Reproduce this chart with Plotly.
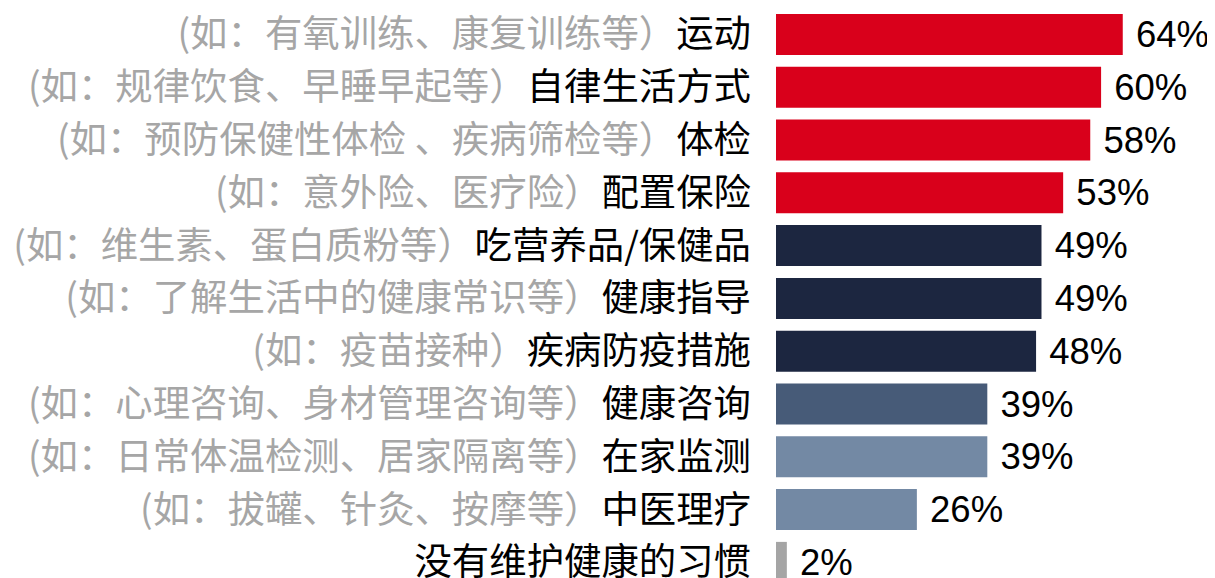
import plotly.graph_objects as go

prefixes = [
    "(如：有氧训练、康复训练等）",
    "(如：规律饮食、早睡早起等）",
    "(如：预防保健性体检 、疾病筛检等）",
    "(如：意外险、医疗险）",
    "(如：维生素、蛋白质粉等）",
    "(如：了解生活中的健康常识等）",
    "(如：疫苗接种）",
    "(如：心理咨询、身材管理咨询等）",
    "(如：日常体温检测、居家隔离等）",
    "(如：拔罐、针灸、按摩等）",
    "",
]
categories = [
    "运动", "自律生活方式", "体检", "配置保险", "吃营养品/保健品", "健康指导",
    "疾病防疫措施", "健康咨询", "在家监测", "中医理疗", "没有维护健康的习惯",
]
values = [64, 60, 58, 53, 49, 49, 48, 39, 39, 26, 2]
colors = ["#D9001B"] * 4 + ["#1C2640"] * 3 + ["#475B78", "#7389A4", "#7389A4", "#A5A5A5"]

ticktext = [
    (f'<span style="color:#A6A6A6">{p}</span>' if p else "") + c
    for p, c in zip(prefixes, categories)
]

fig = go.Figure(go.Bar(
    x=values,
    y=categories,
    orientation="h",
    marker=dict(color=colors, line=dict(width=0)),
    text=[f" {v}%" for v in values],
    textposition="outside",
    textfont=dict(size=37.4, color="#000000", family="Liberation Sans, Arial, sans-serif"),
    cliponaxis=False,
    hoverinfo="skip",
))

fig.update_layout(
    width=1215,
    height=578,
    margin=dict(l=768, r=0, t=0, b=0),
    paper_bgcolor="white",
    plot_bgcolor="white",
    bargap=0.223,
    showlegend=False,
    font=dict(family="Liberation Sans, Noto Sans CJK SC, sans-serif", color="#000000"),
)
fig.update_xaxes(range=[0, 82.5], visible=False, showgrid=False, zeroline=False)
fig.update_yaxes(
    categoryorder="array",
    categoryarray=categories,
    tickmode="array",
    tickvals=categories,
    ticktext=ticktext,
    range=[10.447, -0.5],
    showgrid=False,
    zeroline=False,
    showline=False,
    ticks="",
    ticklabelstandoff=24,
    tickfont=dict(size=37.4, color="#000000", family="Noto Sans CJK SC, Liberation Sans, sans-serif"),
    automargin=False,
)

fig.write_html("out.html")
